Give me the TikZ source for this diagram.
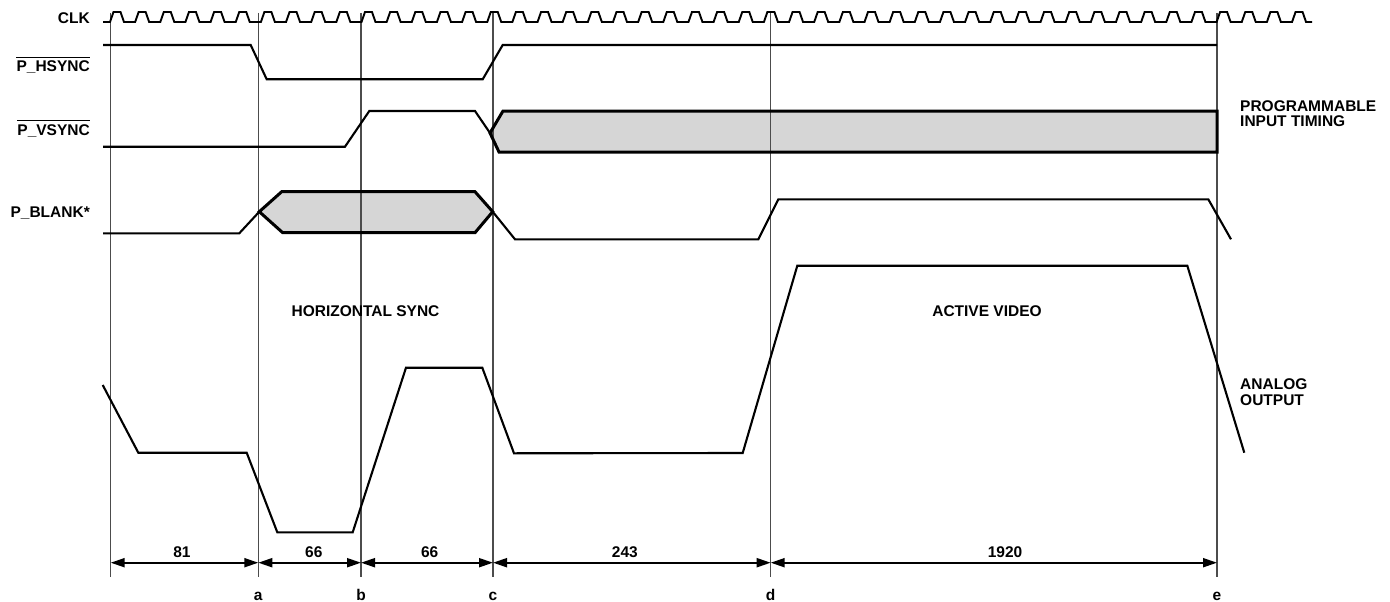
\documentclass[tikz,border=0pt]{standalone}
\usepackage{fontspec}
\setmainfont{Liberation Sans}
\usetikzlibrary{arrows.meta,calc}
\begin{document}
\begin{tikzpicture}[x=1pt,y=-1pt,
  sig/.style={line width=2.1pt, line join=miter, line cap=butt},
  hexfill/.style={fill=black!16, draw=none},
  hexline/.style={line width=3pt, line join=miter},
  gridline/.style={line width=1.1pt, draw=black!70},
  dimline/.style={line width=2pt, {Triangle[length=14pt,width=9pt]}-{Triangle[length=14pt,width=9pt]}},
  lbl/.style={font=\fontsize{15.5}{15.5}\selectfont\bfseries, inner sep=0pt},
  ovl/.style={line width=1.3pt},
]
\useasboundingbox (0,0) rectangle (1390,602);

% shaded programmable regions (fill)
\path[hexfill] (490,133) -- (503,111) -- (1217,111) -- (1217,152) -- (499,152) -- cycle;
\path[hexfill] (259.3,211.7) -- (281.7,191.7) -- (475,191.7) -- (492.7,211.7) -- (475,232.7) -- (282.7,232.7) -- cycle;

% vertical reference lines
\foreach \n/\x in {o/110.7, a/258.3, b/361, c/493, d/770.7, e/1217} {
  \coordinate (top-\n) at (\x,13);
  \coordinate (bot-\n) at (\x,577);
  \coordinate (dim-\n) at (\x,562.7);
  \coordinate (let-\n) at (\x,600);
  \draw[gridline] (top-\n) -- (bot-\n);
}

% shaded programmable regions (outline)
\draw[hexline] (490,133) -- (503,111) -- (1217,111) -- (1217,152) -- (499,152) -- cycle;
\draw[hexline] (259.3,211.7) -- (281.7,191.7) -- (475,191.7) -- (492.7,211.7) -- (475,232.7) -- (282.7,232.7) -- cycle;

% CLK
\draw[sig, line width=1.9pt] (103,22)
  \foreach \k in {0,...,47} {
    -- ({110+\k*25.15},22) -- ({113.5+\k*25.15},12) -- ({120.5+\k*25.15},12) -- ({124+\k*25.15},22)
  } -- (1312,22);

% P_HSYNC
\draw[sig] (103,45) -- (250.7,45) -- (266.7,79.3) -- (482.7,79.3) -- (502.7,45) -- (1217,45);

% P_VSYNC
\draw[sig] (103,146.7) -- (345,146.7) -- (369.3,111) -- (475,111) -- (490,133);

% P_BLANK*
\draw[sig] (103,233.3) -- (239.3,233.3) -- (259.3,211.7);
\draw[sig] (492.7,211.7) -- (515,239.3) -- (758.3,239.3) -- (778.3,199.3) -- (1208.3,199.3) -- (1231,239.3);

% analog output
\draw[sig] (102.7,385) -- (138.3,452.7) -- (246.7,452.7) -- (277.3,532.3) -- (352.7,532.3)
  -- (406,367.7) -- (482.3,367.7) -- (514,453.3) -- (742.7,453) -- (797.3,265.7)
  -- (1187.3,265.7) -- (1244.3,452.7);

% signal names
\node[lbl, anchor=base east] (clk) at (90,24) {CLK};
\node[lbl, anchor=base east] (hs) at (90,71.7) {P\_HSYNC};
\draw[ovl] ([yshift=3.5pt]hs.north west) -- ([yshift=3.5pt]hs.north east);
\node[lbl, anchor=base east] (vs) at (90,135) {P\_VSYNC};
\draw[ovl] ([yshift=3.5pt]vs.north west) -- ([yshift=3.5pt]vs.north east);
\node[lbl, anchor=base east] (bl) at (90,217) {P\_BLANK*};

% side and region labels
\node[lbl, anchor=north west, align=left] (pit) at (1240,100) {PROGRAMMABLE\\INPUT TIMING};
\node[lbl, anchor=north west, align=left, font=\fontsize{15.5}{16.5}\selectfont\bfseries] (ao) at (1240,378) {ANALOG\\OUTPUT};
\node[lbl] (hsync) at (365.5,311) {HORIZONTAL SYNC};
\node[lbl] (actv) at (987,311) {ACTIVE VIDEO};

% dimension arrows
\draw[dimline] (dim-o) -- node[lbl, pos=0.483, anchor=base, yshift=5pt] {81} (dim-a);
\draw[dimline] (dim-a) -- node[lbl, pos=0.54, anchor=base, yshift=5pt] {66} (dim-b);
\draw[dimline] (dim-b) -- node[lbl, pos=0.52, anchor=base, yshift=5pt] {66} (dim-c);
\draw[dimline] (dim-c) -- node[lbl, pos=0.475, anchor=base, yshift=5pt] {243} (dim-d);
\draw[dimline] (dim-d) -- node[lbl, pos=0.525, anchor=base, yshift=5pt] {1920} (dim-e);

% point letters
\foreach \n in {a,b,c,d,e} {
  \node[lbl, anchor=base] (lab-\n) at (let-\n) {\n};
}
\end{tikzpicture}
\end{document}
